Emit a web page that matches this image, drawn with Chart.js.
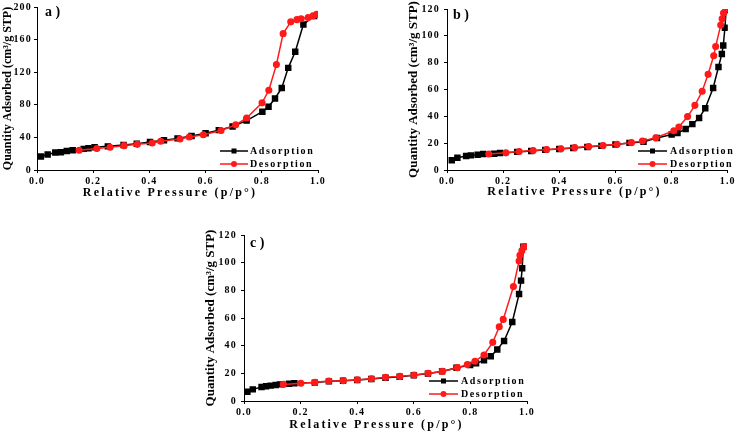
<!DOCTYPE html>
<html><head><meta charset="utf-8">
<script src="https://cdn.jsdelivr.net/npm/chart.js@4/dist/chart.umd.min.js"></script>
<style>
html,body{margin:0;padding:0;background:#fff;width:737px;height:432px;overflow:hidden;position:relative}
canvas{position:absolute;display:block}
</style></head><body>
<canvas id="ca" width="335" height="205" style="left:0;top:0"></canvas>
<canvas id="cb" width="357" height="205" style="left:380px;top:0"></canvas>
<canvas id="cc" width="350" height="207" style="left:190px;top:225px"></canvas>
<script>
// ---- Data ----
const seriesNames = ["Adsorption", "Desorption"];
const xTicksLabel = "Relative Pressure (p/p\u00B0)";
const yTitleLabel = "Quantity Adsorbed (cm\u00B3/g STP)";
const panelLabels = ["a )", "b )", "c )"];

const aAdsX = [0.014,0.038,0.065,0.085,0.106,0.127,0.166,0.183,0.205,0.252,0.308,0.355,0.402,0.452,0.500,0.550,0.600,0.647,0.696,0.746,0.802,0.824,0.847,0.871,0.894,0.919,0.948,0.986];
const aAdsY = [16.6,19,21.4,21.8,23.4,24.2,25.9,26.7,27.9,29,30.7,32.3,34.3,36.4,38.8,41.6,45.2,48.9,53.3,60.6,71.5,77.6,87.7,100.6,125.3,145,178.6,189];
const aDesX = [0.15,0.213,0.26,0.31,0.357,0.41,0.44,0.509,0.542,0.592,0.655,0.707,0.746,0.801,0.825,0.852,0.876,0.903,0.925,0.94,0.965,0.982,0.995];
const aDesY = [24.2,26.3,27.9,29.9,31.5,33.1,35.2,38,40.4,43.2,48.5,55.4,63.8,82.4,97.8,129.3,167.3,181.8,184.5,185.5,187,189,191];

const bAdsX = [0.017,0.037,0.068,0.085,0.109,0.129,0.168,0.189,0.25,0.3,0.35,0.4,0.45,0.5,0.55,0.6,0.65,0.70,0.748,0.80,0.821,0.85,0.874,0.898,0.92,0.948,0.967,0.979,0.984,0.99,0.994];
const bAdsY = [7.3,9.2,10.4,10.9,11.4,11.9,12.1,12.6,13.5,14.2,15,15.6,16.4,17.2,18,19,20.2,21.1,23.8,26.4,27.6,30.5,34.2,38.8,46,61.1,76.8,86.5,92.8,106,119];
const bDesX = [0.149,0.21,0.257,0.307,0.355,0.406,0.455,0.505,0.556,0.606,0.657,0.696,0.744,0.808,0.826,0.857,0.883,0.909,0.93,0.95,0.957,0.975,0.98,0.985,0.993];
const bDesY = [11.9,12.8,13.8,14.5,15.3,15.8,16.7,17.5,18.2,19.2,20.4,21.6,24,29.3,32,39.8,48.2,58.7,71.3,85.1,92.1,108,112.7,117,120];

const cAdsX = [0.012,0.031,0.062,0.078,0.094,0.112,0.127,0.159,0.178,0.25,0.3,0.35,0.4,0.45,0.5,0.55,0.6,0.65,0.7,0.751,0.799,0.82,0.848,0.872,0.895,0.919,0.948,0.972,0.979,0.983,0.987];
const cAdsY = [6.7,8.4,10.1,10.6,11.1,11.6,12,12.5,12.8,13.3,14.2,14.6,15.2,15.9,16.8,17.6,18.6,19.8,21.4,24.1,26,27.2,29.4,32.3,37.3,43.4,57.1,77.3,87,95.9,111.6];
const cDesX = [0.139,0.201,0.251,0.3,0.351,0.4,0.45,0.5,0.551,0.601,0.651,0.701,0.754,0.789,0.816,0.848,0.879,0.902,0.916,0.952,0.972,0.975,0.982,0.989,0.995];
const cDesY = [12,12.8,13.5,14.5,14.7,15.4,16.1,17.1,17.8,18.8,20,21.4,24.1,26.3,28.7,33.3,42.4,53.7,59,82.7,101.2,105.3,108.7,111.6,111.6];

const xTickValues = [0,0.2,0.4,0.6,0.8,1.0];
const yRangeA = [0,200,40];
const yRangeBC = [0,120,20];

// ---- Rendering ----
const SERIF = '"Liberation Serif","DejaVu Serif",serif';
const BLACK = '#000000', RED = '#ff1a1a';

function pts(xs, ys){ return xs.map((x,i)=>({x:x,y:ys[i]})); }

const decor = {
  id: 'decor',
  beforeDraw(chart){ chart.ctx.letterSpacing = '1.2px'; },
  afterDraw(chart, args, o){
    const ctx = chart.ctx;
    const ca = chart.chartArea;
    ctx.save();
    ctx.fillStyle = '#000';
    // panel label
    ctx.letterSpacing = '0px';
    ctx.font = 'bold 14px ' + SERIF;
    ctx.textAlign = 'left'; ctx.textBaseline = 'alphabetic';
    ctx.fillText(o.label, o.labelX, o.labelY);
    // y title
    ctx.save();
    ctx.translate(o.yTitleX, (ca.top + ca.bottom)/2);
    ctx.rotate(-Math.PI/2);
    ctx.font = 'bold ' + o.yTitleSize + 'px ' + SERIF;
    ctx.textAlign = 'center'; ctx.textBaseline = 'middle';
    ctx.fillText(yTitleLabel, 0, 0);
    ctx.restore();
    // x title
    ctx.letterSpacing = '2.2px';
    ctx.font = 'bold 12px ' + SERIF;
    ctx.textAlign = 'center'; ctx.textBaseline = 'middle';
    ctx.fillText(xTicksLabel, o.xTitleX, o.xTitleY);
    // legend
    const ds = chart.data.datasets;
    ds.forEach((d, i) => {
      const y = o.legY[i];
      ctx.strokeStyle = d.borderColor; ctx.lineWidth = 1.5;
      ctx.beginPath(); ctx.moveTo(o.legX1, y); ctx.lineTo(o.legX2, y); ctx.stroke();
      ctx.fillStyle = d.pointBackgroundColor;
      const mx = (o.legX1 + o.legX2)/2;
      if (d.pointStyle === 'rect') { ctx.fillRect(mx-2.5, y-2.5, 5, 5); }
      else { ctx.beginPath(); ctx.arc(mx, y, 3, 0, Math.PI*2); ctx.fill(); }
      ctx.fillStyle = '#000';
      ctx.letterSpacing = '1.6px';
      ctx.font = 'bold 10px ' + SERIF;
      ctx.textAlign = 'left'; ctx.textBaseline = 'middle';
      ctx.fillText(d.label, o.legTX, y + 0.5);
    });
    ctx.restore();
  }
};

function makeChart(id, ads, des, yr, lay, deco){
  return new Chart(document.getElementById(id), {
    type: 'line',
    data: { datasets: [
      { label: seriesNames[0], data: ads, borderColor: BLACK, backgroundColor: BLACK,
        pointBackgroundColor: BLACK, pointBorderColor: BLACK, pointStyle: 'rect',
        pointRadius: 3.5, borderWidth: 1.5, order: 2, tension: 0 },
      { label: seriesNames[1], data: des, borderColor: RED, backgroundColor: RED,
        pointBackgroundColor: RED, pointBorderColor: RED, pointStyle: 'circle',
        pointRadius: 2.8, borderWidth: 1.5, order: 1, tension: 0 }
    ]},
    options: {
      responsive: false, animation: false, events: [],
      layout: { padding: lay.pad },
      plugins: { legend: { display: false }, tooltip: { enabled: false }, decor: deco },
      scales: {
        x: { type: 'linear', min: 0, max: 1,
          afterFit: s => { s.height = lay.xH; },
          afterBuildTicks: s => { s.ticks = xTickValues.map(v => ({value: v})); },
          grid: { drawOnChartArea: false, drawTicks: true, tickLength: 3, color: '#000' },
          border: { display: true, color: '#000', width: 1 },
          ticks: { color: '#000', padding: 3, maxRotation: 0,
            font: { family: SERIF, size: 10, weight: 'bold', lineHeight: 1 },
            callback: v => v.toFixed(1) } },
        y: { type: 'linear', min: yr[0], max: yr[1],
          afterFit: s => { s.width = lay.yW; },
          grid: { drawOnChartArea: false, drawTicks: true, tickLength: 3, color: '#000' },
          border: { display: true, color: '#000', width: 1 },
          ticks: { color: '#000', padding: lay.yPad, stepSize: yr[2],
            font: { family: SERIF, size: 10, weight: 'bold', lineHeight: 1 } } }
      }
    },
    plugins: [decor]
  });
}

makeChart('ca', pts(aAdsX,aAdsY), pts(aDesX,aDesY), yRangeA,
  { pad: {left:0, top:5, right:17, bottom:0}, yW: 37, xH: 35, yPad: 2 },
  { label: panelLabels[0], labelX: 45, labelY: 16, yTitleX: 8, yTitleSize: 12,
    xTitleX: 170, xTitleY: 193, legX1: 220, legX2: 248, legTX: 250, legY: [151,164] });

makeChart('cb', pts(bAdsX,bAdsY), pts(bDesX,bDesY), yRangeBC,
  { pad: {left:0, top:5, right:9, bottom:0}, yW: 67, xH: 35, yPad: 4 },
  { label: panelLabels[1], labelX: 73, labelY: 19, yTitleX: 34, yTitleSize: 13,
    xTitleX: 194.5, xTitleY: 192, legX1: 258, legX2: 287, legTX: 290, legY: [151,164] });

makeChart('cc', pts(cAdsX,cAdsY), pts(cDesX,cDesY), yRangeBC,
  { pad: {left:0, top:10, right:13, bottom:0}, yW: 54, xH: 31, yPad: 4 },
  { label: panelLabels[2], labelX: 60, labelY: 22, yTitleX: 21, yTitleSize: 13,
    xTitleX: 186.5, xTitleY: 200, legX1: 239, legX2: 268, legTX: 271, legY: [156,169] });
</script>
</body></html>
